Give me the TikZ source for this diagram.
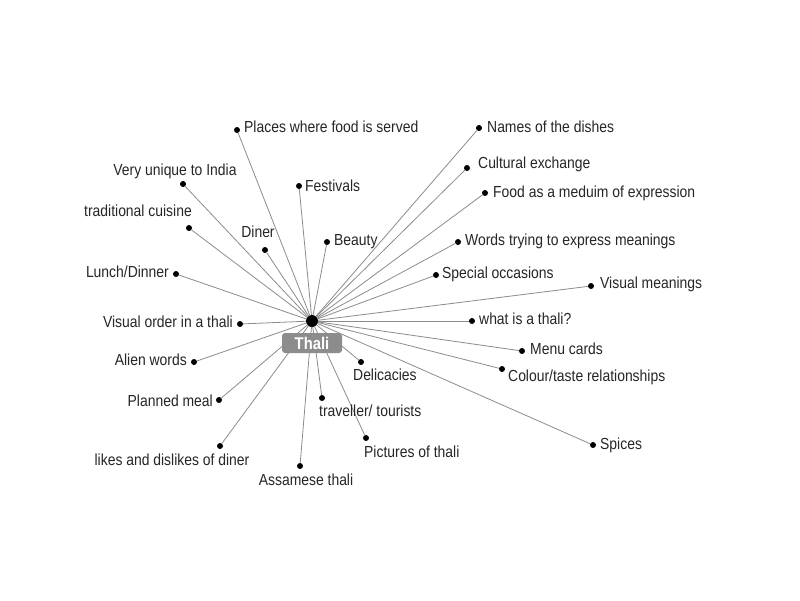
\documentclass[tikz,border=0pt]{standalone}
\usepackage{fontspec}
\setmainfont{Liberation Sans}[FakeStretch=0.87]
\begin{document}
\begin{tikzpicture}[x=1pt,y=-1pt,
  dot/.style={circle,fill=black,inner sep=0pt,minimum size=6pt},
  hubdot/.style={circle,fill=black,inner sep=0pt,minimum size=12pt},
  conn/.style={draw=black!45,line width=0.8pt},
  lbl/.style={inner sep=0pt,font=\fontsize{16}{18}\selectfont,text=black!85,yshift=-2pt},
  titlebox/.style={fill=black!45,rounded corners=3pt,minimum width=60pt,minimum height=20pt,inner sep=0pt,text=white,font=\fontsize{17}{19}\selectfont\bfseries}]
\fill[white] (0,0) rectangle (800,600);
\useasboundingbox (0,0) rectangle (800,600);
\node[hubdot] (hub) at (312,321) {};
% dots
\node[dot] (d1) at (237,130) {};
\node[dot] (d2) at (183,184) {};
\node[dot] (d3) at (189,228) {};
\node[dot] (d4) at (265,250) {};
\node[dot] (d5) at (299,186) {};
\node[dot] (d6) at (327,242) {};
\node[dot] (d7) at (176,274) {};
\node[dot] (d8) at (240,324) {};
\node[dot] (d9) at (194,362) {};
\node[dot] (d10) at (219,400) {};
\node[dot] (d11) at (220,446) {};
\node[dot] (d12) at (300,466) {};
\node[dot] (d13) at (322,398) {};
\node[dot] (d14) at (366,438) {};
\node[dot] (d15) at (361,362) {};
\node[dot] (d16) at (593,445) {};
\node[dot] (d17) at (502,369) {};
\node[dot] (d18) at (522,351) {};
\node[dot] (d19) at (472,321) {};
\node[dot] (d20) at (591,286) {};
\node[dot] (d21) at (436,275) {};
\node[dot] (d22) at (458,242) {};
\node[dot] (d23) at (485,193) {};
\node[dot] (d24) at (467,168) {};
\node[dot] (d25) at (479,128) {};
% connectors
\foreach \i in {1,...,25} { \draw[conn] (hub) -- (d\i); }
% labels
\node[lbl,anchor=mid west] (l1) at (244,128) {Places where food is served};
\node[lbl,anchor=mid] (l2) at (175,171) {Very unique to India};
\node[lbl,anchor=mid] (l3) at (138,212) {traditional cuisine};
\node[lbl,anchor=mid] (l4) at (258,233) {Diner};
\node[lbl,anchor=mid west] (l5) at (305,187) {Festivals};
\node[lbl,anchor=mid west] (l6) at (334,241) {Beauty};
\node[lbl,anchor=mid east] (l7) at (169,273) {Lunch/Dinner};
\node[lbl,anchor=mid east] (l8) at (233,323) {Visual order in a thali};
\node[lbl,anchor=mid east] (l9) at (187,361) {Alien words};
\node[lbl,anchor=mid east] (l10) at (213,402) {Planned meal};
\node[lbl,anchor=mid] (l11) at (172,461) {likes and dislikes of diner};
\node[lbl,anchor=mid] (l12) at (306,481) {Assamese thali};
\node[lbl,anchor=mid west] (l13) at (319,412) {traveller/ tourists};
\node[lbl,anchor=mid west] (l14) at (364,453) {Pictures of thali};
\node[lbl,anchor=mid west] (l15) at (353,376) {Delicacies};
\node[lbl,anchor=mid west] (l16) at (600,445) {Spices};
\node[lbl,anchor=mid west] (l17) at (508,377) {Colour/taste relationships};
\node[lbl,anchor=mid west] (l18) at (530,350) {Menu cards};
\node[lbl,anchor=mid west] (l19) at (479,320) {what is a thali?};
\node[lbl,anchor=mid west] (l20) at (600,284) {Visual meanings};
\node[lbl,anchor=mid west] (l21) at (442,274) {Special occasions};
\node[lbl,anchor=mid west] (l22) at (465,241) {Words trying to express meanings};
\node[lbl,anchor=mid west] (l23) at (493,193) {Food as a meduim of expression};
\node[lbl,anchor=mid west] (l24) at (478,164) {Cultural exchange};
\node[lbl,anchor=mid west] (l25) at (487,128) {Names of the dishes};
% title
\node[titlebox] (thali) at (312,343) {Thali};
\end{tikzpicture}
\end{document}
